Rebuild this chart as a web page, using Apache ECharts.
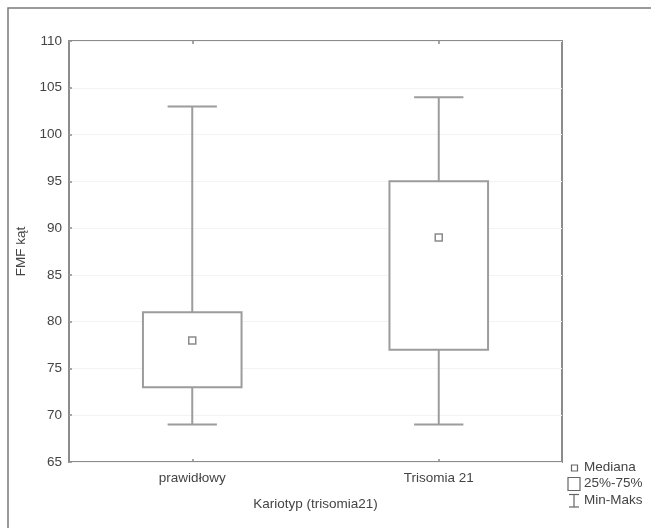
<!DOCTYPE html>
<html>
<head>
<meta charset="utf-8">
<script src="https://cdn.jsdelivr.net/npm/echarts@6/dist/echarts.min.js"></script>
<style>
  html, body { margin: 0; padding: 0; background: #fff; }
  #chart { width: 651px; height: 528px; }
</style>
</head>
<body>
<div id="chart"></div>
<script>
// Box-and-whisker summary of FMF angle by karyotype
const categories = ['prawidłowy', 'Trisomia 21'];
const minVals = [69, 69];
const q1Vals = [73, 77];
const medianVals = [78, 89];
const q3Vals = [81, 95];
const maxVals = [103, 104];
const yTicks = { min: 65, max: 110, step: 5 };

const boxData = categories.map((c, i) => [i, minVals[i], q1Vals[i], medianVals[i], q3Vals[i], maxVals[i]]);

const lineColor = '#9c9c9c';
const textColor = '#444';
const fontFamily = '"Liberation Sans", Arial, sans-serif';
const fontSize = 13.5;

function renderBox(params, api) {
  const idx = api.value(0);
  const pMin = api.coord([idx, api.value(1)]);
  const pQ1 = api.coord([idx, api.value(2)]);
  const pMed = api.coord([idx, api.value(3)]);
  const pQ3 = api.coord([idx, api.value(4)]);
  const pMax = api.coord([idx, api.value(5)]);
  const band = api.size([1, 0])[0];
  const boxW = band * 0.4;
  const capW = boxW * 0.5;
  const cx = pMed[0];
  const lineStyle = { stroke: lineColor, lineWidth: 2, fill: null };
  const m = 3.5;
  return {
    type: 'group',
    children: [
      { type: 'line', shape: { x1: cx, y1: pMax[1], x2: cx, y2: pQ3[1] }, style: lineStyle },
      { type: 'line', shape: { x1: cx, y1: pQ1[1], x2: cx, y2: pMin[1] }, style: lineStyle },
      { type: 'line', shape: { x1: cx - capW / 2, y1: pMax[1], x2: cx + capW / 2, y2: pMax[1] }, style: lineStyle },
      { type: 'line', shape: { x1: cx - capW / 2, y1: pMin[1], x2: cx + capW / 2, y2: pMin[1] }, style: lineStyle },
      { type: 'rect', shape: { x: cx - boxW / 2, y: pQ3[1], width: boxW, height: pQ1[1] - pQ3[1] },
        style: { stroke: lineColor, lineWidth: 2, fill: '#fff' } },
      { type: 'rect', shape: { x: cx - m, y: pMed[1] - m, width: 2 * m, height: 2 * m },
        style: { stroke: '#8a8a8a', lineWidth: 1.5, fill: '#fff' } }
    ]
  };
}

const chart = echarts.init(document.getElementById('chart'));

const legendX = 568;
const legendText = (y, t) => ({
  type: 'text', left: 584, top: y - 8,
  style: { text: t, fill: textColor, fontSize: fontSize, fontFamily: fontFamily }
});

chart.setOption({
  animation: false,
  backgroundColor: '#fff',
  grid: { left: 69, top: 41, right: 89, bottom: 66, show: true, borderColor: '#8c8c8c', borderWidth: 2, backgroundColor: 'transparent' },
  xAxis: [
    {
      type: 'category', data: categories, position: 'bottom',
      name: 'Kariotyp (trisomia21)', nameLocation: 'middle', nameGap: 35,
      nameTextStyle: { color: textColor, fontSize: fontSize, fontFamily: fontFamily },
      axisLine: { show: false },
      axisTick: { show: true, inside: true, alignWithLabel: true, length: 3, lineStyle: { color: '#8c8c8c', width: 1.5 } },
      axisLabel: { color: textColor, fontSize: fontSize, fontFamily: fontFamily, margin: 9 },
      splitLine: { show: false }
    },
    {
      type: 'category', data: categories, position: 'top',
      axisLine: { show: false },
      axisTick: { show: true, inside: true, alignWithLabel: true, length: 3, lineStyle: { color: '#8c8c8c', width: 1.5 } },
      axisLabel: { show: false },
      splitLine: { show: false }
    }
  ],
  yAxis: {
    type: 'value', min: yTicks.min, max: yTicks.max, interval: yTicks.step,
    name: 'FMF kąt', nameLocation: 'middle', nameGap: 40,
    nameTextStyle: { color: textColor, fontSize: fontSize, fontFamily: fontFamily },
    axisLine: { show: false },
    axisTick: { show: true, inside: true, length: 3, lineStyle: { color: '#8c8c8c', width: 1.5 } },
    axisLabel: { color: textColor, fontSize: fontSize, fontFamily: fontFamily, margin: 7 },
    splitLine: { show: true, lineStyle: { color: '#f3f3f3', width: 1 } }
  },
  series: [{
    type: 'custom',
    xAxisIndex: 0,
    renderItem: renderBox,
    encode: { x: 0, y: [1, 2, 3, 4, 5] },
    data: boxData,
    z: 3
  }],
  graphic: [
    { type: 'rect', shape: { x: 8, y: 8, width: 700, height: 600 },
      style: { stroke: '#7a7a7a', lineWidth: 1.5, fill: null }, silent: true },
    { type: 'rect', shape: { x: legendX + 3.5, y: 465, width: 6, height: 6 },
      style: { stroke: '#666', lineWidth: 1.2, fill: '#fff' } },
    legendText(468, 'Mediana'),
    { type: 'rect', shape: { x: legendX, y: 477.5, width: 12, height: 13 },
      style: { stroke: '#666', lineWidth: 1.2, fill: '#fff' } },
    legendText(484.5, '25%-75%'),
    { type: 'line', shape: { x1: legendX + 6, y1: 494.5, x2: legendX + 6, y2: 507 }, style: { stroke: '#666', lineWidth: 1.2 } },
    { type: 'line', shape: { x1: legendX + 1, y1: 494.5, x2: legendX + 11, y2: 494.5 }, style: { stroke: '#666', lineWidth: 1.2 } },
    { type: 'line', shape: { x1: legendX + 1, y1: 507, x2: legendX + 11, y2: 507 }, style: { stroke: '#666', lineWidth: 1.2 } },
    legendText(501, 'Min-Maks')
  ]
});
</script>
</body>
</html>
